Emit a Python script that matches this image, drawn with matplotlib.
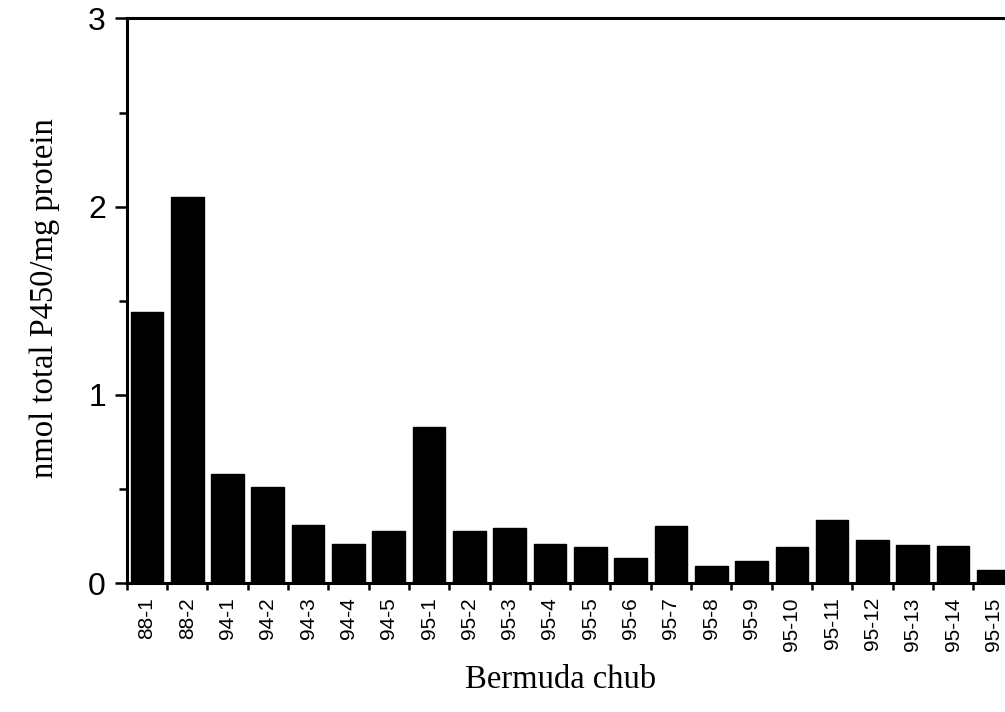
import numpy as np
import matplotlib
matplotlib.use("Agg")
import matplotlib.pyplot as plt
from matplotlib.ticker import FixedLocator, NullFormatter

# Bermuda chub samples and total P450 (nmol/mg protein)
fish = ["88-1", "88-2", "94-1", "94-2", "94-3", "94-4", "94-5",
        "95-1", "95-2", "95-3", "95-4", "95-5", "95-6", "95-7", "95-8",
        "95-9", "95-10", "95-11", "95-12", "95-13", "95-14", "95-15"]
p450 = [1.44, 2.05, 0.58, 0.51, 0.31, 0.21, 0.28,
        0.83, 0.28, 0.295, 0.21, 0.19, 0.135, 0.305, 0.09,
        0.12, 0.19, 0.335, 0.23, 0.205, 0.20, 0.07]

fig = plt.figure(figsize=(10.05, 7.12), dpi=100)
ax = fig.add_axes([0.1261, 0.1808, 0.874, 0.7934])

x = np.arange(len(fish))
ax.bar(x, p450, width=0.81, color="black", edgecolor="black")

ax.set_xlim(-0.5, 21.29)
ax.set_ylim(0, 3)

ax.spines["right"].set_visible(False)
for s in ["left", "top", "bottom"]:
    ax.spines[s].set_linewidth(2.2)

# x: tick marks between bars, labels under bars
ax.xaxis.set_major_locator(FixedLocator(np.arange(-0.5, len(fish), 1.0)))
ax.xaxis.set_major_formatter(NullFormatter())
ax.xaxis.set_minor_locator(FixedLocator(x))
ax.set_xticklabels(fish, minor=True, rotation=90, family="Liberation Sans", fontsize=15)
ax.tick_params(axis="x", which="major", direction="out", length=5, width=1.8)
ax.tick_params(axis="x", which="minor", length=0, pad=10)

# y
ax.set_yticks([0, 1, 2, 3])
ax.set_yticks([0.5, 1.5, 2.5], minor=True)
ax.set_yticklabels(["0", "1", "2", "3"], family="Liberation Sans", fontsize=23)
ax.tick_params(axis="y", which="major", direction="out", length=9, width=1.8, pad=6)
ax.tick_params(axis="y", which="minor", direction="out", length=5.5, width=1.8)

fig.text(45 / 1005, 1 - 298 / 712, "nmol total P450/mg protein", rotation=90,
         ha="center", va="center", family="Liberation Serif", fontsize=23.5)
fig.text(561 / 1005, 1 - 680 / 712, "Bermuda chub",
         ha="center", va="center", family="Liberation Serif", fontsize=23.5)

fig.savefig("out.png", dpi=100)
